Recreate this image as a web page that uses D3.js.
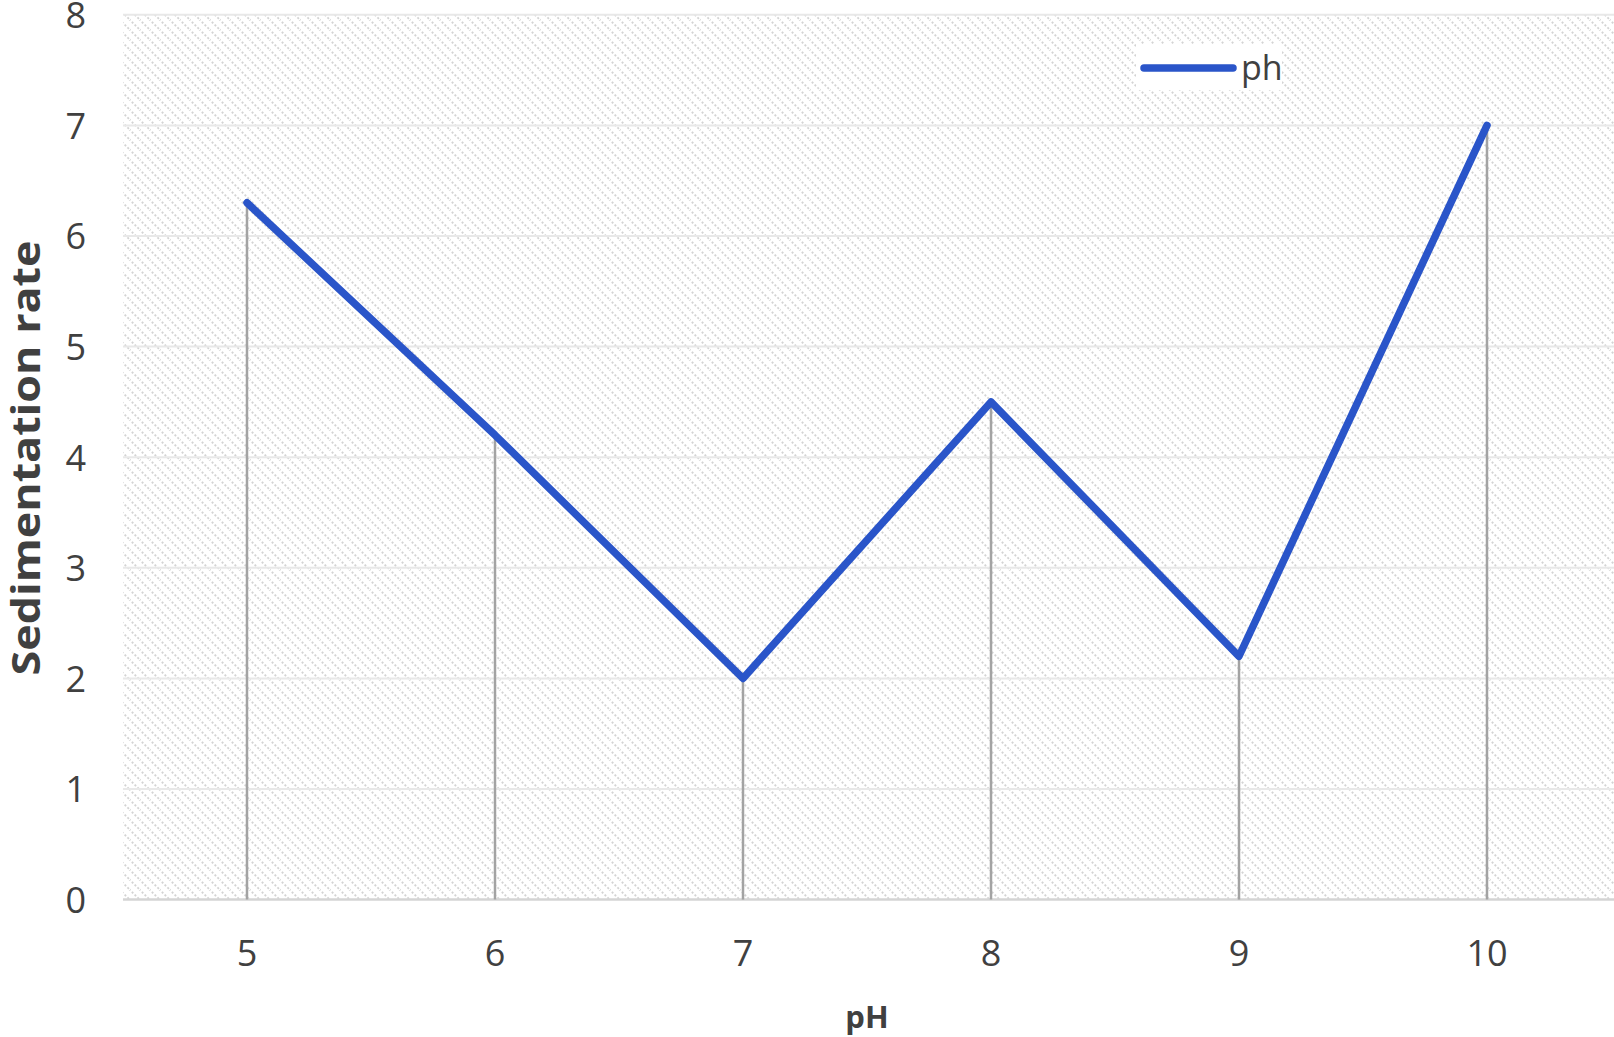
<!DOCTYPE html>
<html><head><meta charset="utf-8">
<script src="https://cdn.jsdelivr.net/npm/d3@7"></script>
<style>
html,body{margin:0;padding:0;background:#fff;}
svg{display:block;font-family:"Open Sans","Noto Sans",sans-serif;}
</style></head>
<body>
<svg id="chart" width="1614" height="1037"></svg>
<script>
const categories = ["5","6","7","8","9","10"];
const values = [6.3, 4.2, 2.0, 4.5, 2.2, 7.0];
const yTicks = [0,1,2,3,4,5,6,7,8];
const seriesName = "ph";
const xTitle = "pH";
const yTitle = "Sedimentation rate";

const svg = d3.select("#chart");
const m = {left:123, right:1611, top:14.8, bottom:899.6};

const x = d3.scaleBand().domain(categories).range([m.left, m.right]);
const y = d3.scaleLinear().domain([0,8]).range([m.bottom, m.top]);

const defs = svg.append("defs");
const P = 10;
const pat = defs.append("pattern").attr("id","hatch").attr("patternUnits","userSpaceOnUse")
  .attr("width",P).attr("height",P);
pat.append("rect").attr("width",P).attr("height",P).attr("fill","#fff");
pat.append("path").attr("d",`M-1,-1 L${P+1},${P+1} M-1,${P-1} L1,${P+1} M${P-1},-1 L${P+1},1`)
  .attr("stroke","#d3d3d3").attr("stroke-width",1.8).attr("stroke-dasharray","2,2");

svg.append("rect").attr("x",m.left).attr("y",m.top).attr("width",1614-m.left)
  .attr("height",m.bottom-m.top).attr("fill","url(#hatch)");

// gridlines
svg.append("g").selectAll("line").data(yTicks.filter(d=>d>0)).join("line")
  .attr("x1",m.left).attr("x2",1614).attr("y1",d=>y(d)).attr("y2",d=>y(d))
  .attr("stroke","#e8e8e8").attr("stroke-width",2);

// x axis
const xAxis = d3.axisBottom(x).tickSize(0).tickPadding(0);
const gx = svg.append("g").attr("transform",`translate(0,${m.bottom})`).call(xAxis);
gx.select(".domain").attr("stroke","#d4d4d4").attr("stroke-width",2.5).attr("d",`M${m.left},0H1614`);
gx.selectAll("text").attr("font-size",36).attr("fill","#404040").attr("dy",null).attr("y",66)
  .attr("font-family","'Open Sans','Noto Sans',sans-serif");

// y axis
const yAxis = d3.axisLeft(y).tickValues(yTicks).tickSize(0).tickPadding(0);
const gy = svg.append("g").attr("transform",`translate(86,0)`).call(yAxis);
gy.select(".domain").remove();
gy.selectAll("text").attr("font-size",36).attr("fill","#404040").attr("dy","0.36em")
  .attr("font-family","'Open Sans','Noto Sans',sans-serif");

// drop lines
svg.append("g").selectAll("line").data(values).join("line")
  .attr("x1",(d,i)=>x(categories[i])+x.bandwidth()/2)
  .attr("x2",(d,i)=>x(categories[i])+x.bandwidth()/2)
  .attr("y1",d=>y(d)).attr("y2",y(0))
  .attr("stroke","#a3a3a3").attr("stroke-width",2.5);

// line
const line = d3.line().x((d,i)=>x(categories[i])+x.bandwidth()/2).y(d=>y(d));
svg.append("path").datum(values).attr("d",line).attr("fill","none")
  .attr("stroke","#2a55c9").attr("stroke-width",7.5).attr("stroke-linejoin","round").attr("stroke-linecap","round");

// legend
const lg = svg.append("g");
lg.append("rect").attr("x",1136).attr("y",44).attr("width",146).attr("height",46).attr("fill","#fff");
lg.append("line").attr("x1",1144).attr("x2",1233).attr("y1",68).attr("y2",68)
  .attr("stroke","#2a55c9").attr("stroke-width",7.5).attr("stroke-linecap","round");
lg.append("text").attr("x",1241).attr("y",80).attr("font-size",34).attr("fill","#404040").text(seriesName);

// titles
svg.append("text").attr("x",(m.left+m.right)/2).attr("y",1028).attr("text-anchor","middle")
  .attr("font-size",31).attr("font-weight","bold").attr("fill","#404040").text(xTitle);
svg.append("text").attr("transform","translate(40,458) rotate(-90)").attr("text-anchor","middle")
  .attr("font-size",40).attr("font-weight","bold").attr("fill","#404040")
  .attr("textLength",435).attr("lengthAdjust","spacingAndGlyphs").text(yTitle);
</script>
</body></html>
